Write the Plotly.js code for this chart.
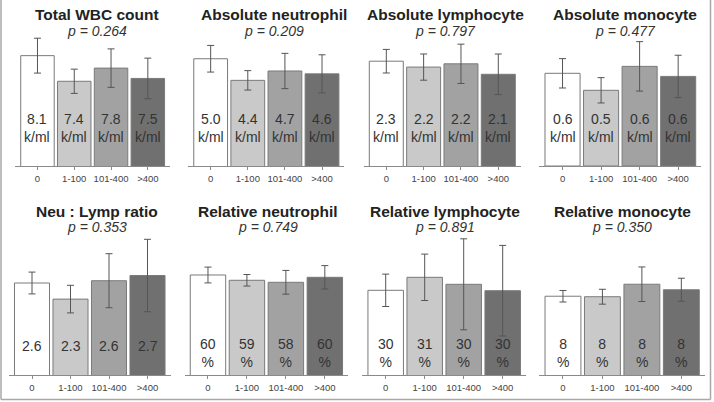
<!DOCTYPE html>
<html>
<head>
<meta charset="utf-8">
<script src="https://cdn.plot.ly/plotly-3.0.1.min.js"></script>
<style>html,body{margin:0;padding:0;background:#fff;}#chart{width:714px;height:402px;}</style>
</head>
<body>
<div id="chart"></div>
<script>
// ---- data ----
var categories = ["0", "1-100", "101-400", ">400"];

var panelTitles = ["Total WBC count", "Absolute neutrophil", "Absolute lymphocyte", "Absolute monocyte",
                   "Neu : Lymp ratio", "Relative neutrophil", "Relative lymphocyte", "Relative monocyte"];
var pValues = ["0.264", "0.209", "0.797", "0.477", "0.353", "0.749", "0.891", "0.350"];

var wbcMean = [8.10, 7.38, 7.75, 7.46];
var wbcSD   = [0.49, 0.34, 0.54, 0.57];
var wbcLabels = ["8.1", "7.4", "7.8", "7.5"];

var absNeuMean = [4.98, 4.38, 4.64, 4.56];
var absNeuSD   = [0.37, 0.27, 0.49, 0.53];
var absNeuLabels = ["5.0", "4.4", "4.7", "4.6"];

var absLymMean = [2.27, 2.18, 2.23, 2.07];
var absLymSD   = [0.18, 0.20, 0.30, 0.31];
var absLymLabels = ["2.3", "2.2", "2.2", "2.1"];

var absMonoMean = [0.600, 0.490, 0.645, 0.580];
var absMonoSD   = [0.095, 0.082, 0.160, 0.137];
var absMonoLabels = ["0.6", "0.5", "0.6", "0.6"];

var nlrMean = [2.60, 2.32, 2.64, 2.73];
var nlrSD   = [0.19, 0.24, 0.47, 0.63];
var nlrLabels = ["2.6", "2.3", "2.6", "2.7"];

var relNeuMean = [60.25, 58.78, 58.22, 59.61];
var relNeuSD   = [2.2, 1.6, 3.3, 3.25];
var relNeuLabels = ["60", "59", "58", "60"];

var relLymMean = [29.64, 30.94, 30.24, 29.60];
var relLymSD   = [1.62, 2.32, 4.55, 4.53];
var relLymLabels = ["30", "31", "30", "30"];

var relMonoMean = [7.90, 7.88, 8.40, 8.17];
var relMonoSD   = [0.24, 0.31, 0.72, 0.48];
var relMonoLabels = ["8", "8", "8", "8"];

var units = ["k/ml", "k/ml", "k/ml", "k/ml", "", "%", "%", "%"];

var allMeans  = [wbcMean, absNeuMean, absLymMean, absMonoMean, nlrMean, relNeuMean, relLymMean, relMonoMean];
var allSDs    = [wbcSD, absNeuSD, absLymSD, absMonoSD, nlrSD, relNeuSD, relLymSD, relMonoSD];
var allLabels = [wbcLabels, absNeuLabels, absLymLabels, absMonoLabels, nlrLabels, relNeuLabels, relLymLabels, relMonoLabels];

// ---- layout helpers (pixels) ----
var W = 714, H = 402;
var yRanges = [[5, 8.68], [2, 5.64], [0.67, 2.67], [0, 0.848],
               [1, 3.435], [32.47, 71.36], [21.17, 35.17], [4.62, 10.45]];
var xPix = [[15.4, 169.9], [188.4, 344.3], [363.9, 520.7], [539.4, 701.3],
            [8.9, 170.6], [184.6, 348.2], [362.3, 526.1], [539.3, 705.0]];
var rowPix = [[35, 166], [235, 375]];       // [top, baseline]
var titleX = [97, 274, 445, 625, 97, 268, 445, 622];
var titleY = [15, 211.5];
var pY = [31, 227];
var labelY = [127.5, 353];
var barColors = ["#ffffff", "#c9c9c9", "#a2a2a2", "#707070"];

function fx(px) { return px / W; }
function fy(py) { return 1 - py / H; }

var traces = [];
var layout = {
  width: W, height: H,
  margin: {l: 0, r: 0, t: 0, b: 0},
  paper_bgcolor: "#ffffff", plot_bgcolor: "rgba(0,0,0,0)",
  showlegend: false,
  font: {family: "Liberation Sans, Arial, sans-serif", color: "#333"},
  annotations: [],
  shapes: [
    {type: "line", xref: "paper", yref: "paper", x0: fx(1), x1: fx(1), y0: fy(0), y1: fy(399.5), line: {color: "#bdbdbd", width: 2}},
    {type: "line", xref: "paper", yref: "paper", x0: fx(1), x1: fx(710.5), y0: fy(399.5), y1: fy(399.5), line: {color: "#a8a8a8", width: 1.5}},
    {type: "line", xref: "paper", yref: "paper", x0: fx(710.5), x1: fx(710.5), y0: fy(0), y1: fy(399.5), line: {color: "#a8a8a8", width: 1.5}}
  ]
};

for (var i = 0; i < 8; i++) {
  var n = i + 1;
  var xa = n === 1 ? "x" : "x" + n;
  var ya = n === 1 ? "y" : "y" + n;
  var row = i < 4 ? 0 : 1;
  traces.push({
    type: "bar",
    x: categories,
    y: allMeans[i],
    xaxis: xa, yaxis: ya,
    width: 0.91,
    marker: {color: barColors, line: {color: "#7a7a7a", width: 1}},
    error_y: {type: "data", array: allSDs[i], visible: true, color: "#555555", thickness: 1, width: 3.5},
    hoverinfo: "none"
  });
  layout["xaxis" + (n === 1 ? "" : n)] = {
    domain: [fx(xPix[i][0]), fx(xPix[i][1])],
    anchor: ya,
    type: "category",
    range: [-0.6, 3.6],
    showline: true, linecolor: "#8a8a8a", linewidth: 1,
    ticks: "outside", ticklen: 3, tickcolor: "#8a8a8a", tickwidth: 1,
    ticklabelstandoff: 1,
    tickfont: {size: 9.5, color: "#444", family: "Liberation Sans, Arial, sans-serif"},
    showgrid: false, zeroline: false, fixedrange: true
  };
  layout["yaxis" + (n === 1 ? "" : n)] = {
    domain: [fy(rowPix[row][1]), fy(rowPix[row][0])],
    anchor: xa,
    range: yRanges[i],
    visible: false, showgrid: false, zeroline: false, fixedrange: true
  };
  // titles
  layout.annotations.push({
    xref: "paper", yref: "paper", x: fx(titleX[i]), y: fy(titleY[row]),
    xanchor: "center", yanchor: "middle", showarrow: false,
    text: "<b>" + panelTitles[i] + "</b>",
    font: {size: 15.5, color: "#222", family: "Liberation Sans, Arial, sans-serif"}
  });
  layout.annotations.push({
    xref: "paper", yref: "paper", x: fx(titleX[i]), y: fy(pY[row]),
    xanchor: "center", yanchor: "middle", showarrow: false,
    text: "<i>p</i><i> = " + pValues[i] + "</i>",
    font: {size: 14, color: "#333", family: "Liberation Sans, Arial, sans-serif"}
  });
  // value labels inside bars
  for (var j = 0; j < categories.length; j++) {
    var txt = units[i] ? allLabels[i][j] + "<br>" + units[i] : allLabels[i][j];
    var ly = units[i] ? labelY[row] : 345.7;
    layout.annotations.push({
      xref: xa, yref: "paper", x: categories[j], y: fy(ly),
      xanchor: "center", yanchor: "middle", showarrow: false,
      text: txt,
      font: {size: 14, color: "#333", family: "Liberation Sans, Arial, sans-serif"}
    });
  }
}

Plotly.newPlot("chart", traces, layout, {staticPlot: true, displayModeBar: false});
</script>
</body>
</html>
